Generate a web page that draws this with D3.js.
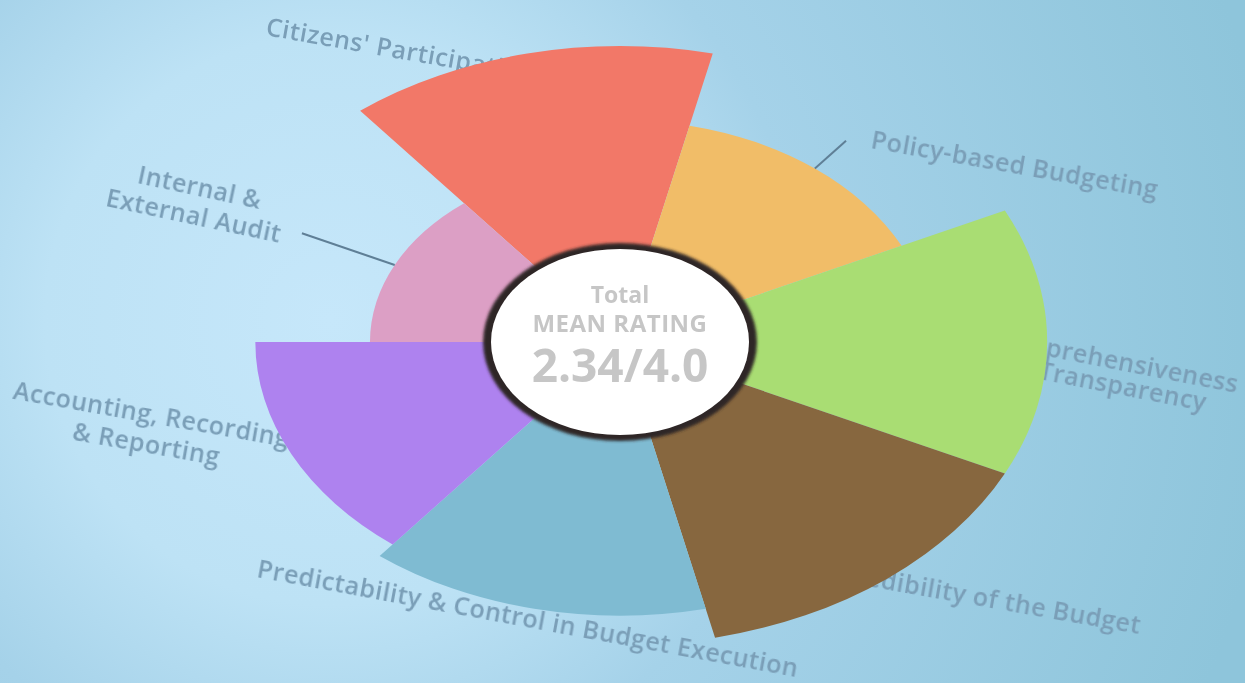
<!DOCTYPE html>
<html>
<head>
<meta charset="utf-8">
<script src="https://cdn.jsdelivr.net/npm/d3@7"></script>
<style>
  body { margin: 0; overflow: hidden; }
  svg { display: block; }
</style>
</head>
<body>
<svg></svg>
<script>
// categories clockwise, starting at the top (Citizens' Participation)
const categories = ["Citizens' Participation", "Policy-based Budgeting", "Comprehensiveness & Transparency",
  "Credibility of the Budget", "Predictability & Control in Budget Execution",
  "Accounting, Recording & Reporting", "Internal & External Audit"];
const labelLines = [["Citizens' Participation"], ["Policy-based Budgeting"], ["Comprehensiveness", "& Transparency"],
  ["Credibility of the Budget"], ["Predictability & Control in Budget Execution"],
  ["Accounting, Recording", "& Reporting"], ["Internal &", "External Audit"]];
const ratings = [2.8, 1.8, 2.9, 2.9, 2.5, 2.3, 1.2];
const colors = ["#f27868", "#f1bd68", "#a9dd73", "#87673f", "#7fbbd2", "#ae82ef", "#dc9fc5"];
const maxRating = 4.0;
const centerTitle = ["Total", "MEAN RATING"];

var w = 1245, h = 683;
const cx = 620, cy = 342, tilt = 0.71;

let svg = d3.select("svg").attr("width", w).attr("height", h);
const defs = svg.append("defs");

// background
const bg = defs.append("radialGradient").attr("id", "bg")
  .attr("gradientUnits", "userSpaceOnUse")
  .attr("cx", 330).attr("cy", 320).attr("r", 950);
bg.append("stop").attr("offset", 0).attr("stop-color", "#c6e7fa");
bg.append("stop").attr("offset", 0.3).attr("stop-color", "#bde2f5");
bg.append("stop").attr("offset", 0.5).attr("stop-color", "#a5d2e9");
bg.append("stop").attr("offset", 1).attr("stop-color", "#8ec5db");
svg.append("rect").attr("width", w).attr("height", h).attr("fill", "url(#bg)");

defs.append("filter").attr("id", "soft").append("feGaussianBlur").attr("stdDeviation", 0.7);
defs.append("filter").attr("id", "ring").append("feGaussianBlur").attr("stdDeviation", 1.6);

// labels (drawn first so the slices cover them, like in the picture)
const labelLayout = [
  { x: 265, y: 35, rot: 10, anchor: "start" },
  { x: 870, y: 148, rot: 10, anchor: "start" },
  { x: 1113, y: 369, rot: 11, anchor: "middle", gap: 24 },
  { x: 838, y: 581, rot: 10, anchor: "start" },
  { x: 256, y: 577, rot: 10.5, anchor: "start" },
  { x: 150, y: 423, rot: 10, anchor: "middle", gap: 30 },
  { x: 198, y: 196, rot: 12, anchor: "middle", gap: 29 }
];

const labels = svg.append("g")
  .attr("font-family", "'Open Sans', 'DejaVu Sans', sans-serif")
  .attr("font-weight", 600)
  .attr("font-size", 25)
  .attr("letter-spacing", 0.5)
  .attr("fill", "#7a9eb7")
  .attr("filter", "url(#soft)");

labelLines.forEach(function(lines, i) {
  let L = labelLayout[i];
  let t = labels.append("text")
    .attr("transform", `translate(${L.x},${L.y}) rotate(${L.rot})`)
    .attr("text-anchor", L.anchor);
  lines.forEach(function(s, j) {
    t.append("tspan").attr("x", 0).attr("y", j * (L.gap || 0)).text(s);
  });
});

// polar area slices
let rScale = d3.scaleLinear().domain([0, maxRating]).range([125, 125 + 4 * 104.2]);
let pie = d3.pie().sort(null).value(1)
  .startAngle(-3 * Math.PI / 14).endAngle(2 * Math.PI - 3 * Math.PI / 14);
let arc = d3.arc().innerRadius(rScale(0)).outerRadius(d => rScale(d.data.value));

const slices = pie(ratings.map((v, i) => ({ name: categories[i], value: v, color: colors[i] })));

const g = svg.append("g").attr("transform", `translate(${cx},${cy}) scale(1,${tilt})`);
g.selectAll("path")
  .data(slices)
  .enter()
  .append("path")
  .attr("d", arc)
  .attr("fill", d => d.data.color);

// leader lines for two labels
const leaders = [{ i: 1, len: 50 }, { i: 6, len: 103 }];
leaders.forEach(function(l) {
  let s = slices[l.i];
  let a = (s.startAngle + s.endAngle) / 2;
  let r0 = rScale(s.data.value), r1 = r0 + l.len;
  svg.append("line")
    .attr("x1", cx + Math.sin(a) * r0).attr("y1", cy - Math.cos(a) * r0 * tilt)
    .attr("x2", cx + Math.sin(a) * r1).attr("y2", cy - Math.cos(a) * r1 * tilt)
    .attr("stroke", "#5f7f96").attr("stroke-width", 2).attr("filter", "url(#soft)");
});

// center badge
svg.append("ellipse").attr("cx", cx).attr("cy", cy).attr("rx", 137).attr("ry", 99)
  .attr("fill", "#2e2626").attr("filter", "url(#ring)");
svg.append("ellipse").attr("cx", cx).attr("cy", cy).attr("rx", 129).attr("ry", 93)
  .attr("fill", "#ffffff").attr("filter", "url(#soft)");

const ctr = svg.append("g")
  .attr("font-family", "'Open Sans', 'DejaVu Sans', sans-serif")
  .attr("font-weight", 700)
  .attr("fill", "#c6c6c6")
  .attr("text-anchor", "middle");
ctr.append("text").attr("x", cx).attr("y", 303).attr("font-size", 23).text(centerTitle[0]);
ctr.append("text").attr("x", cx).attr("y", 332).attr("font-size", 24).attr("letter-spacing", 0.5).text(centerTitle[1]);
ctr.append("text").attr("x", cx).attr("y", 382).attr("font-size", 46)
  .text(d3.format(".2f")(d3.mean(ratings)) + "/" + d3.format(".1f")(maxRating));
</script>
</body>
</html>
